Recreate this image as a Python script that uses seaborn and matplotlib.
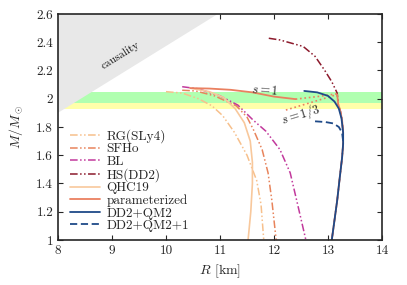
import numpy as np
import matplotlib
matplotlib.use('Agg')
import matplotlib.pyplot as plt
import seaborn as sns
from matplotlib.ticker import FormatStrFormatter

sns.set_style('ticks')
plt.rcParams['font.family'] = ['cmr10', 'Liberation Serif', 'DejaVu Serif']
plt.rcParams['mathtext.fontset'] = 'cm'
plt.rcParams['axes.formatter.use_mathtext'] = True
plt.rcParams['axes.unicode_minus'] = False

# mass-radius curves (R in km, M in Msun)
r_sly4 = [10.0, 10.3, 10.6, 10.85, 11.05, 11.27, 11.5, 11.68, 11.76, 11.81]
m_sly4 = [2.05, 2.04, 2.0, 1.95, 1.88, 1.76, 1.6, 1.42, 1.25, 1.0]

r_sfho = [10.3, 10.55, 10.9, 11.3, 11.5, 11.62, 11.78, 11.89, 11.96, 12.04]
m_sfho = [2.06, 2.055, 2.02, 1.95, 1.87, 1.78, 1.64, 1.475, 1.28, 1.0]

r_bl = [10.3, 10.6, 11.0, 11.33, 11.61, 11.85, 12.11, 12.3, 12.42, 12.59]
m_bl = [2.085, 2.07, 2.02, 1.955, 1.85, 1.77, 1.64, 1.475, 1.28, 1.0]

r_dd2 = [13.07, 13.12, 13.17, 13.22, 13.26, 13.28, 13.28, 13.26, 13.23, 13.19, 13.17,
         13.07, 12.94, 12.76, 12.54, 12.11, 11.87]
m_dd2 = [1.0, 1.14, 1.28, 1.45, 1.58, 1.68, 1.76, 1.85, 1.91, 1.96, 2.04,
         2.12, 2.2, 2.3, 2.37, 2.416, 2.43]

r_qhc = [11.52, 11.57, 11.6, 11.6, 11.56, 11.45, 11.28, 11.06, 10.8, 10.45]
m_qhc = [1.0, 1.2, 1.4, 1.55, 1.7, 1.83, 1.93, 2.01, 2.05, 2.075]

# parameterized: hadronic (DD2) part, hybrid part, and the s=1, s=1/3 connectors
r_par_low = [13.07, 13.12, 13.17, 13.22, 13.26, 13.28, 13.28, 13.26, 13.23, 13.19, 13.17]
m_par_low = [1.0, 1.14, 1.28, 1.45, 1.58, 1.68, 1.76, 1.85, 1.91, 1.96, 2.03]
r_par_hyb = [10.45, 10.8, 11.2, 11.6, 12.0, 12.4]
m_par_hyb = [2.075, 2.072, 2.063, 2.045, 2.015, 1.997]
r_s1 = [12.4, 12.8, 13.17]
m_s1 = [1.997, 2.015, 2.035]
r_s13 = [12.22, 12.7, 13.17]
m_s13 = [1.92, 1.975, 2.03]

r_qm2 = [12.56, 12.8, 13.0, 13.12, 13.2, 13.25, 13.28, 13.28, 13.26, 13.22, 13.17, 13.12, 13.07]
m_qm2 = [2.055, 2.045, 2.02, 1.98, 1.93, 1.86, 1.76, 1.68, 1.58, 1.45, 1.28, 1.14, 1.0]

r_qm21 = [12.76, 12.95, 13.1, 13.2, 13.26, 13.28]
m_qm21 = [1.84, 1.835, 1.825, 1.8, 1.76, 1.7]

# causality limit and pulsar mass bands
r_caus = [8.0, 10.96]
m_caus = [1.9, 2.6]
band_green = [1.97, 2.05]
band_yellow = [1.93, 1.97]

c_sly4 = '#f7c08c'
c_sfho = '#e8845c'
c_bl = '#c2399c'
c_dd2 = '#8c1a2c'
c_qhc = '#f8c89c'
c_par = '#ea8060'
c_qm = '#1f4a88'
dd = (0, (5, 1.6, 1, 1.6, 1, 1.6))

fig, ax = plt.subplots(figsize=(4.07, 2.85), dpi=100)
fig.subplots_adjust(left=0.1425, right=0.9386, bottom=0.158, top=0.951)

ax.axhspan(band_yellow[0], band_yellow[1], color='#ffffaa', lw=0, zorder=0)
ax.axhspan(band_green[0], band_green[1], color='#b0ffb0', lw=0, zorder=0)
ax.fill([r_caus[0], r_caus[1], r_caus[0]], [m_caus[0], m_caus[1], m_caus[1]],
        color='#e8e8e8', lw=0, zorder=1)
ax.text(9.15, 2.305, 'causality', rotation=32, fontsize=8, ha='center', va='center',
        color='#111111')


def curve(r, m, **kw):
    sns.lineplot(x=r, y=m, sort=False, estimator=None, ax=ax, **kw)


curve(r_sly4, m_sly4, color=c_sly4, lw=1.1, linestyle=dd, label='RG(SLy4)')
curve(r_sfho, m_sfho, color=c_sfho, lw=1.1, linestyle=dd, label='SFHo')
curve(r_bl, m_bl, color=c_bl, lw=1.1, linestyle=dd, label='BL')
curve(r_dd2, m_dd2, color=c_dd2, lw=1.1, linestyle=dd, label='HS(DD2)')
curve(r_qhc, m_qhc, color=c_qhc, lw=1.2, label='QHC19')
curve(r_par_hyb, m_par_hyb, color=c_par, lw=1.3, label='parameterized')
curve(r_par_low, m_par_low, color=c_par, lw=1.3)
curve(r_s1, m_s1, color=c_par, lw=1.2, linestyle=':')
curve(r_s13, m_s13, color=c_par, lw=1.2, linestyle=':')
curve(r_qm2, m_qm2, color=c_qm, lw=1.3, label='DD2+QM2')
curve(r_qm21, m_qm21, color=c_qm, lw=1.3, linestyle=(0, (4, 2)), label='DD2+QM2+1')

ax.text(11.83, 2.06, '$s=1$', fontsize=9, rotation=-4, ha='center', va='center')
ax.text(12.5, 1.885, '$s=1/3$', fontsize=9, rotation=17, ha='center', va='center')

ax.set_xlim(8, 14)
ax.set_ylim(1, 2.6)
ax.set_xticks(range(8, 15))
ax.set_yticks([1, 1.2, 1.4, 1.6, 1.8, 2, 2.2, 2.4, 2.6])
ax.xaxis.set_major_formatter(FormatStrFormatter('%g'))
ax.yaxis.set_major_formatter(FormatStrFormatter('%g'))
ax.tick_params(direction='in', top=True, right=True, length=3.5, width=0.8, labelsize=9.5)
for s in ax.spines.values():
    s.set_linewidth(1.2)
ax.set_xlabel('$R$ [km]', fontsize=10)
ax.set_ylabel('$M/M_\\odot$', fontsize=10, labelpad=8)

ax.legend(loc='lower left', frameon=False, fontsize=9.5, handlelength=2.3,
          handletextpad=0.5, labelspacing=0.02, borderaxespad=0.2,
          bbox_to_anchor=(0.012, 0.0))

plt.savefig('out.png', dpi=100)
